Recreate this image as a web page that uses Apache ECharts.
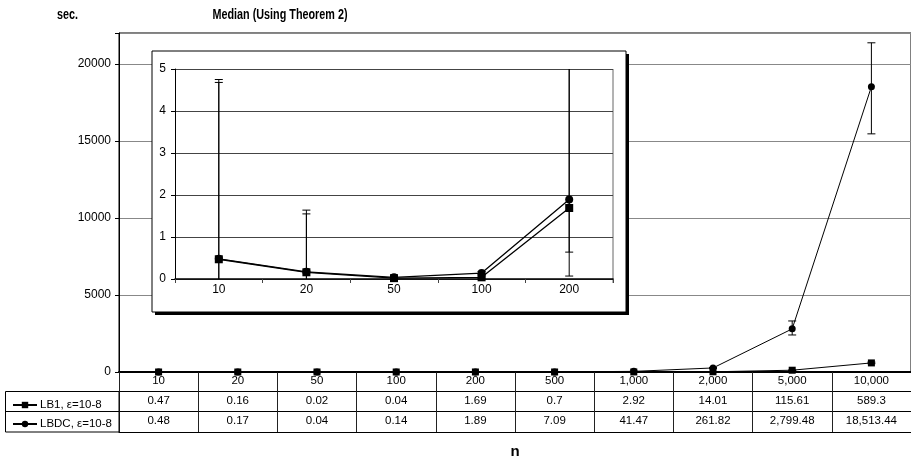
<!DOCTYPE html>
<html>
<head>
<meta charset="utf-8">
<script src="https://cdn.jsdelivr.net/npm/echarts@6/dist/echarts.min.js"></script>
<style>
  html, body { margin: 0; padding: 0; background: #fff; }
  #chart { width: 911px; height: 461px; }
</style>
</head>
<body>
<div id="chart"></div>
<script>
// Problem sizes n
const nValues = [10, 20, 50, 100, 200, 500, 1000, 2000, 5000, 10000];
// Median run times in seconds
const lb1 = [0.47, 0.16, 0.02, 0.04, 1.69, 0.7, 2.92, 14.01, 115.61, 589.3];
const lbdc = [0.48, 0.17, 0.04, 0.14, 1.89, 7.09, 41.47, 261.82, 2799.48, 18513.44];
// Error bar bounds (low / high)
const lb1Low  = [-3.74, -1.25, 0.0, 0.02, 0.64, 0.4, 2.0, 12.0, 100.0, 540.0];
const lb1High = [4.68, 1.55, 0.05, 0.07, 5.6, 1.0, 3.8, 16.0, 130.0, 640.0];
const lbdcLow  = [-3.79, -1.3, 0.01, 0.1, 0.07, 6.0, 38.0, 230.0, 2403, 15455];
const lbdcHigh = [4.75, 1.64, 0.07, 0.18, 6.3, 8.2, 45.0, 290.0, 3312, 21364];
// Number of sizes shown in the zoomed-in panel
const insetCount = 5;

const nameLB1 = 'LB1, ε=10-8';
const nameLBDC = 'LBDC, ε=10-8';
const FONT = "'Liberation Sans', Arial, sans-serif";

const fmt = v => v.toLocaleString('en-US', { maximumFractionDigits: 2 });
const catLabels = nValues.map(fmt);
const insetCats = nValues.slice(0, insetCount).map(String);

function errData(low, high, count) {
  const out = [];
  for (let i = 0; i < count; i++) out.push([i, low[i], high[i]]);
  return out;
}

function renderErr(params, api) {
  const lo = api.coord([api.value(0), api.value(1)]);
  const hi = api.coord([api.value(0), api.value(2)]);
  const w = 4;
  const style = { stroke: '#000', lineWidth: 1 };
  return {
    type: 'group',
    children: [
      { type: 'line', shape: { x1: lo[0], y1: lo[1], x2: hi[0], y2: hi[1] }, style },
      { type: 'line', shape: { x1: hi[0] - w, y1: hi[1], x2: hi[0] + w, y2: hi[1] }, style },
      { type: 'line', shape: { x1: lo[0] - w, y1: lo[1], x2: lo[0] + w, y2: lo[1] }, style }
    ]
  };
}

const chart = echarts.init(document.getElementById('chart'), null, { renderer: 'canvas' });

const txt = { color: '#000', fontFamily: FONT, fontSize: 11.5 };
const tickTxt = { color: '#000', fontFamily: FONT, fontSize: 12 };
const headFont = "bold 15px 'Liberation Sans', Arial, sans-serif";

const option = {
  backgroundColor: '#fff',
  animation: false,
  textStyle: { fontFamily: FONT },
  legend: {
    orient: 'vertical',
    left: 7,
    top: 394,
    itemGap: 7,
    itemWidth: 24,
    itemHeight: 8,
    data: [nameLB1, nameLBDC],
    textStyle: { color: '#000', fontFamily: FONT, fontSize: 11.5, padding: [0, 0, 0, -2] }
  },
  grid: [
    { left: 119, top: 33, width: 792, height: 339, show: true, borderColor: '#000', borderWidth: 1,
      backgroundColor: 'transparent', outerBoundsMode: 'none', containLabel: false },
    { left: 175, top: 69, width: 438, height: 210, show: false, outerBoundsMode: 'none', containLabel: false }
  ],
  xAxis: [
    {
      type: 'category', gridIndex: 0, position: 'bottom', data: catLabels,
      axisLine: { lineStyle: { color: '#000', width: 2 } },
      axisTick: { show: true, length: 60, lineStyle: { color: '#222', width: 1 } },
      axisLabel: Object.assign({ margin: 3 }, txt),
      name: 'n', nameLocation: 'middle', nameGap: 72,
      nameTextStyle: { color: '#000', fontFamily: FONT, fontSize: 15, fontWeight: 'bold' }
    },
    {
      type: 'category', gridIndex: 0, position: 'bottom', data: lb1.map(fmt), offset: 19,
      axisLine: { lineStyle: { color: '#000', width: 1 } },
      axisTick: { show: false },
      axisLabel: Object.assign({ margin: 4 }, txt)
    },
    {
      type: 'category', gridIndex: 0, position: 'bottom', data: lbdc.map(fmt), offset: 39,
      axisLine: { lineStyle: { color: '#000', width: 1 } },
      axisTick: { show: false },
      axisLabel: Object.assign({ margin: 4 }, txt)
    },
    {
      type: 'category', gridIndex: 0, position: 'bottom', data: catLabels, offset: 60,
      axisLine: { lineStyle: { color: '#000', width: 1 } },
      axisTick: { show: false },
      axisLabel: { show: false }
    },
    {
      type: 'category', gridIndex: 1, position: 'bottom', data: insetCats, z: 11,
      axisLine: { lineStyle: { color: '#000', width: 1.5 } },
      axisTick: { show: true, length: 4, lineStyle: { color: '#444' } },
      axisLabel: Object.assign({ margin: 5 }, tickTxt)
    }
  ],
  yAxis: [
    {
      type: 'value', gridIndex: 0, position: 'left', min: 0, max: 22000, interval: 5000,
      axisLine: { show: true, lineStyle: { color: '#000', width: 1 } },
      axisTick: { show: true, length: 4, lineStyle: { color: '#000' } },
      axisLabel: Object.assign({ margin: 8, formatter: v => (v % 5000 === 0 ? String(v) : '') }, tickTxt),
      splitLine: { show: true, lineStyle: { color: '#888', width: 1 } }
    },
    {
      type: 'value', gridIndex: 1, position: 'left', min: 0, max: 5, interval: 1, z: 11,
      axisLine: { show: true, lineStyle: { color: '#000', width: 1 } },
      axisTick: { show: true, length: 4, lineStyle: { color: '#000' } },
      axisLabel: Object.assign({ margin: 9 }, tickTxt),
      splitLine: { show: true, lineStyle: { color: '#444', width: 1 } }
    }
  ],
  graphic: [
    { type: 'text', x: 57, y: 7, z: 20, scaleX: 0.72,
      style: { text: 'sec.', fill: '#000', font: headFont } },
    { type: 'text', x: 280, y: 7, z: 20, scaleX: 0.72,
      style: { text: 'Median (Using Theorem 2)', fill: '#000', textAlign: 'center', font: headFont } },
    // zoom panel frame with drop shadow
    { type: 'rect', z: 10, shape: { x: 155, y: 54, width: 474, height: 261 }, style: { fill: '#000' } },
    { type: 'rect', z: 10, shape: { x: 152, y: 51, width: 474, height: 261 }, style: { fill: '#fff', stroke: '#000', lineWidth: 1 } },
    { type: 'line', z: 10, shape: { x1: 613, y1: 69, x2: 613, y2: 283 }, style: { stroke: '#666', lineWidth: 1 } },
    // row header cells of the data table
    { type: 'rect', z: 5, shape: { x: 5.5, y: 391.5, width: 113.5, height: 40.5 }, style: { fill: 'none', stroke: '#000', lineWidth: 1 } },
    { type: 'line', z: 5, shape: { x1: 5, y1: 411.5, x2: 119, y2: 411.5 }, style: { stroke: '#000', lineWidth: 1 } }
  ],
  series: [
    {
      name: nameLB1, type: 'line', xAxisIndex: 0, yAxisIndex: 0, data: lb1,
      symbol: 'rect', symbolSize: 7, color: '#000',
      lineStyle: { color: '#000', width: 1 }, itemStyle: { color: '#000' }
    },
    {
      name: nameLBDC, type: 'line', xAxisIndex: 0, yAxisIndex: 0, data: lbdc,
      symbol: 'circle', symbolSize: 7, color: '#000',
      lineStyle: { color: '#000', width: 1 }, itemStyle: { color: '#000' }
    },
    {
      type: 'custom', xAxisIndex: 0, yAxisIndex: 0, clip: true, z: 3,
      data: errData(lb1Low, lb1High, nValues.length), renderItem: renderErr
    },
    {
      type: 'custom', xAxisIndex: 0, yAxisIndex: 0, clip: true, z: 3,
      data: errData(lbdcLow, lbdcHigh, nValues.length), renderItem: renderErr
    },
    {
      name: nameLB1, type: 'line', xAxisIndex: 4, yAxisIndex: 1, data: lb1.slice(0, insetCount),
      symbol: 'rect', symbolSize: 8, color: '#000', z: 13,
      lineStyle: { color: '#000', width: 1.3 }, itemStyle: { color: '#000' }
    },
    {
      name: nameLBDC, type: 'line', xAxisIndex: 4, yAxisIndex: 1, data: lbdc.slice(0, insetCount),
      symbol: 'circle', symbolSize: 8, color: '#000', z: 13,
      lineStyle: { color: '#000', width: 1.3 }, itemStyle: { color: '#000' }
    },
    {
      type: 'custom', xAxisIndex: 4, yAxisIndex: 1, clip: true, z: 12,
      data: errData(lb1Low, lb1High, insetCount), renderItem: renderErr
    },
    {
      type: 'custom', xAxisIndex: 4, yAxisIndex: 1, clip: true, z: 12,
      data: errData(lbdcLow, lbdcHigh, insetCount), renderItem: renderErr
    }
  ]
};

chart.setOption(option);
</script>
</body>
</html>
